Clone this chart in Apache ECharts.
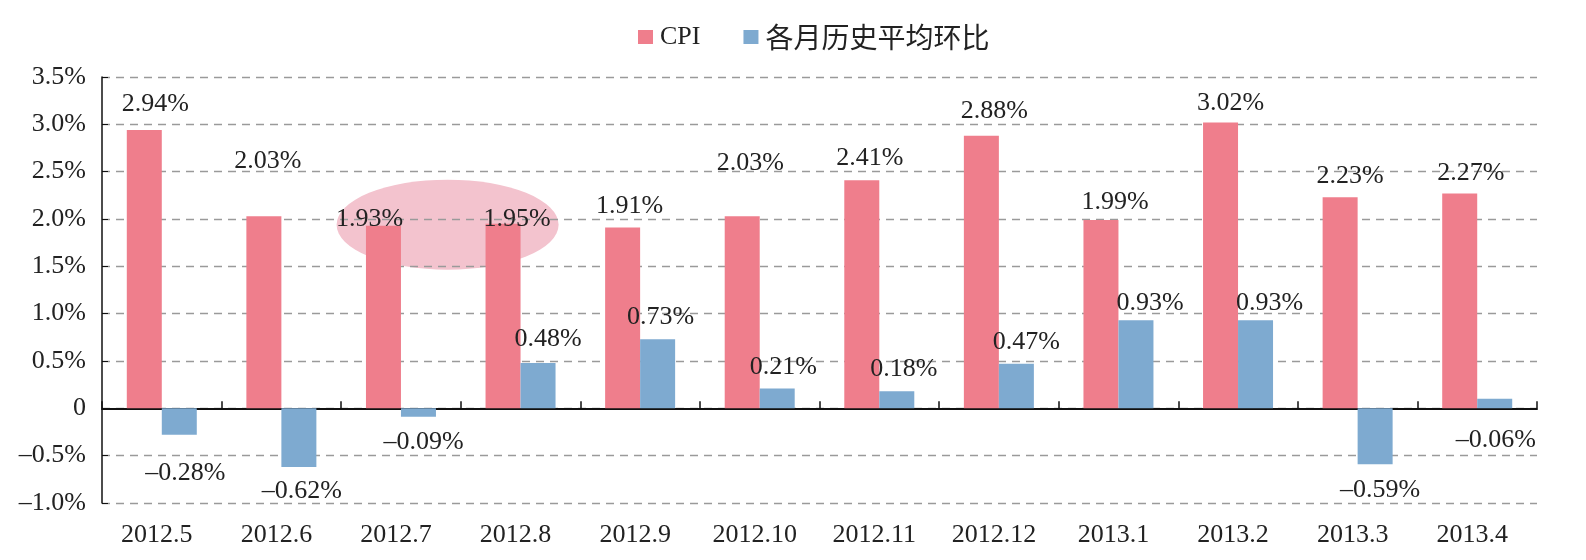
<!DOCTYPE html>
<html>
<head>
<meta charset="utf-8">
<script src="https://cdn.jsdelivr.net/npm/echarts@6/dist/echarts.min.js"></script>
<style>
  html, body { margin: 0; padding: 0; background: #fff; }
  #main { width: 1586px; height: 560px; }
</style>
</head>
<body>
<div id="main"></div>
<script>
var categories = ['2012.5', '2012.6', '2012.7', '2012.8', '2012.9', '2012.10',
                  '2012.11', '2012.12', '2013.1', '2013.2', '2013.3', '2013.4'];
var cpiValues = [2.94, 2.03, 1.93, 1.95, 1.91, 2.03, 2.41, 2.88, 1.99, 3.02, 2.23, 2.27];
var avgValues = [-0.28, -0.62, -0.09, 0.48, 0.73, 0.21, 0.18, 0.47, 0.93, 0.93, -0.59, 0.10];
var avgLabels = ['–0.28%', '–0.62%', '–0.09%', '0.48%', '0.73%', '0.21%',
                 '0.18%', '0.47%', '0.93%', '0.93%', '–0.59%', '–0.06%'];
var yMin = -1.0, yMax = 3.5, yStep = 0.5;

// label nudges (px) so the value labels sit where the original put them
var cpiShift = [[11, -5], [4, -34], [-14, 15], [14, 16], [7, 0], [8, -32],
                [8, -1], [13, -4], [14, 3], [10, 2], [10, 0], [11, 1]];
var avgShift = [[6, 17], [3, 3], [5, 4], [10, -3], [3, -1], [6, 0],
                [7, -1], [10, -1], [14, 4], [14, 4], [5, 5], [1, 11]];

var serif = '"Liberation Serif", "DejaVu Serif", serif';
var pink = '#ef7e8c', blue = '#7eaad0';

function fmtPct(v) {
  if (v === 0) return '0';
  return (v < 0 ? '–' : '') + Math.abs(v).toFixed(1) + '%';
}

var cpiData = cpiValues.map(function (v, i) {
  return { value: v, label: { offset: cpiShift[i] } };
});
var avgData = avgValues.map(function (v, i) {
  var below = avgLabels[i].charAt(0) === '–';
  return {
    value: v,
    label: { position: below ? 'bottom' : 'top', offset: avgShift[i] }
  };
});

var myChart = echarts.init(document.getElementById('main'));
var option = {
  animation: false,
  textStyle: { fontFamily: serif },
  legend: {
    data: ['CPI', '各月历史平均环比'],
    left: 633,
    top: 18,
    itemWidth: 15,
    itemHeight: 14,
    itemGap: 43,
    icon: 'rect',
    formatter: function (name) {
      return /[\u4e00-\u9fff]/.test(name) ? '{cn|' + name + '}' : name;
    },
    textStyle: {
      fontFamily: serif, fontSize: 26, color: '#222', padding: [0, 0, 0, 2],
      rich: { cn: { fontFamily: '"Noto Sans CJK SC"', fontSize: 28, color: '#222' } }
    }
  },
  grid: { left: 102, right: 49, top: 77, bottom: 57, containLabel: false, outerBoundsMode: 'none' },
  xAxis: [
    {
      // bottom axis: only carries the month labels
      type: 'category',
      data: categories,
      position: 'bottom',
      axisLine: { show: false, onZero: false },
      axisTick: { show: false },
      axisLabel: { fontFamily: serif, fontSize: 26, color: '#222', margin: 19, padding: [0, 10, 0, 0] }
    },
    {
      // zero line with the upward ticks
      type: 'category',
      data: categories,
      position: 'bottom',
      axisLine: { onZero: true, lineStyle: { color: '#111', width: 2 } },
      axisTick: { show: true, inside: true, length: 7, lineStyle: { color: '#111', width: 1.5 } },
      axisLabel: { show: false }
    }
  ],
  yAxis: {
    type: 'value',
    min: yMin,
    max: yMax,
    interval: yStep,
    axisLine: { show: true, lineStyle: { color: '#111', width: 1.5 } },
    axisTick: { show: true, inside: true, length: 6, lineStyle: { color: '#111' } },
    axisLabel: {
      fontFamily: serif, fontSize: 26, color: '#222', margin: 16,
      formatter: fmtPct
    },
    splitLine: { show: true, lineStyle: { color: '#9a9a9a', type: [8, 6], width: 1.3 } }
  },
  series: [
    {
      name: 'CPI',
      type: 'bar',
      xAxisIndex: 0,
      barWidth: 35,
      barGap: '0%',
      itemStyle: { color: pink },
      data: cpiData,
      label: {
        show: true, position: 'top', distance: 8,
        fontFamily: serif, fontSize: 26, color: '#222',
        formatter: function (p) { return p.value.toFixed(2) + '%'; }
      }
    },
    {
      name: '各月历史平均环比',
      type: 'bar',
      xAxisIndex: 0,
      barWidth: 35,
      barGap: '0%',
      itemStyle: { color: blue },
      data: avgData,
      label: {
        show: true, distance: 8,
        fontFamily: serif, fontSize: 26, color: '#222',
        formatter: function (p) { return avgLabels[p.dataIndex]; }
      }
    }
  ]
};
myChart.setOption(option);

// highlight ellipse around the 2012.7 / 2012.8 labels
var p1 = myChart.convertToPixel({ xAxisIndex: 0, yAxisIndex: 0 }, [2, 1.94]);
var p2 = myChart.convertToPixel({ xAxisIndex: 0, yAxisIndex: 0 }, [3, 1.94]);
var rx = 111, ry = 45;
myChart.setOption({
  graphic: [{
    type: 'circle',
    x: p1[0] + (p2[0] - p1[0]) * 0.39,
    y: p1[1],
    scaleY: ry / rx,
    z: -10,
    silent: true,
    shape: { cx: 0, cy: 0, r: rx },
    style: { fill: '#f3c3ce' }
  }]
});
</script>
</body>
</html>
